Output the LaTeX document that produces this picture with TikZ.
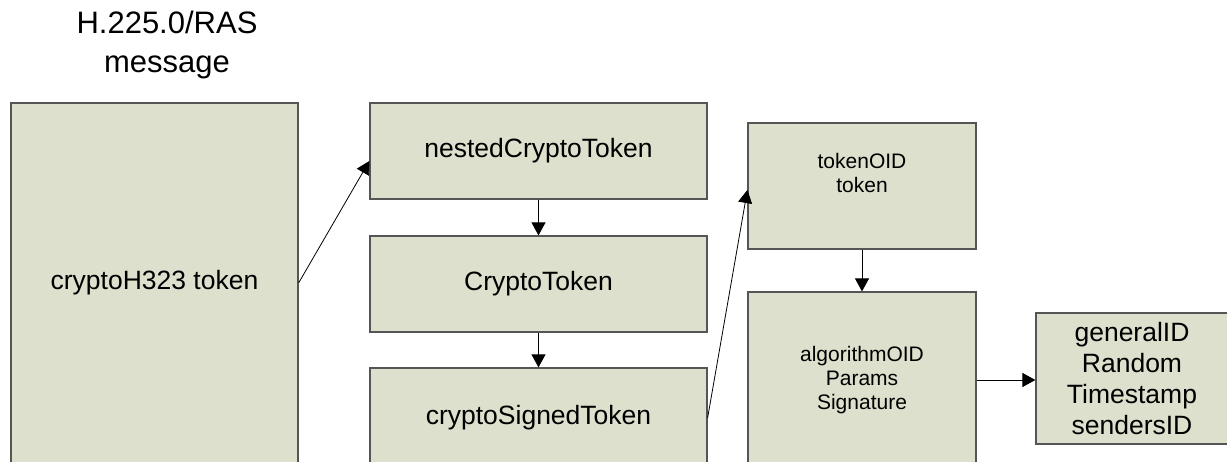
\documentclass[tikz,border=0pt]{standalone}
\usepackage{fontspec}
\setmainfont{Liberation Sans}
\usetikzlibrary{arrows.meta}
\definecolor{boxfill}{RGB}{221,224,204}
\definecolor{boxline}{RGB}{85,85,85}

\begin{document}
\begin{tikzpicture}[x=1pt, y=-1pt, inner sep=0pt, >={Triangle[length=13pt,width=14pt]},
  blk/.style={rectangle, draw=boxline, fill=boxfill, line width=1.2pt, align=center},
  big/.style={font=\fontsize{26.5}{31}\selectfont},
  small/.style={font=\fontsize{21}{24}\selectfont}]
\useasboundingbox (0,0) rectangle (1227,462);
\clip (0,0) rectangle (1227,462);
\node (title) at (167,45) [align=center, font=\fontsize{31}{39}\selectfont] {H.225.0/RAS\\message};
\node (msg) at (154.5,283) [blk, big, minimum width=287pt, minimum height=360pt] {cryptoH323 token};
\node (nested) at (538.5,151) [blk, big, minimum width=337pt, minimum height=96pt] {nestedCryptoToken};
\node (crypto) at (538.5,284) [blk, big, minimum width=337pt, minimum height=96pt] {CryptoToken};
\node (signed) at (538.5,418) [blk, big, minimum width=337pt, minimum height=100pt] {cryptoSignedToken};
\node (tokoid) at (862,186) [blk, minimum width=228pt, minimum height=126pt] {};
\node (toklbl) at (862,173) [small, align=center] {tokenOID\\token};
\node (algo) at (862,380) [blk, small, minimum width=228pt, minimum height=176pt] {algorithmOID\\Params\\Signature};
\node (gen) at (1132,378.5) [blk, big, minimum width=192pt, minimum height=131pt] {generalID\\Random\\Timestamp\\sendersID};
\draw[->, line width=0.8pt] (msg.east) -- ([yshift=-10pt]nested.west);
\draw[->, line width=0.8pt] (nested) -- (crypto);
\draw[->, line width=0.8pt] (crypto) -- (signed);
\draw[->, line width=0.8pt] (signed.east) -- ([yshift=-4pt]tokoid.west);
\draw[->, line width=0.8pt] (tokoid) -- (algo);
\draw[->, line width=0.8pt] (algo.east) -- (gen.west |- algo.east);
\end{tikzpicture}
\end{document}
